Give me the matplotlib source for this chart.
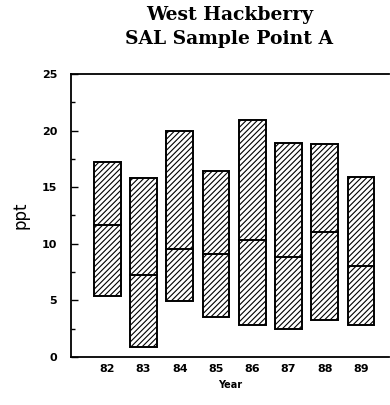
import matplotlib
matplotlib.use('Agg')
import matplotlib.pyplot as plt

years = [82, 83, 84, 85, 86, 87, 88, 89]
year_labels = ['82', '83', '84', '85', '86', '87', '88', '89']
sal_min = [5.4, 0.9, 4.95, 3.5, 2.8, 2.45, 3.3, 2.8]
sal_max = [17.2, 15.8, 20.0, 16.4, 20.9, 18.9, 18.8, 15.9]
sal_mid = [11.7, 7.2, 9.5, 9.1, 10.3, 8.8, 11.0, 8.0]

plt.rcParams['hatch.linewidth'] = 0.8

def main():
    fig = plt.figure(figsize=(3.9, 4.05), dpi=100)
    ax = fig.add_axes([0.182, 0.1185, 0.815, 0.699])

    heights = [hi - lo for lo, hi in zip(sal_min, sal_max)]
    ax.bar(years, heights, bottom=sal_min, width=0.74,
           facecolor='white', edgecolor='black', linewidth=1.4,
           hatch='//////')
    for x, m in zip(years, sal_mid):
        ax.plot([x - 0.37, x + 0.37], [m, m], color='black', linewidth=1.4)

    ax.set_xlim(81, 89.77)
    ax.set_ylim(0, 25)
    ax.set_yticks([0, 5, 10, 15, 20, 25])
    ax.set_yticks([2.5, 7.5, 12.5, 17.5, 22.5], minor=True)
    ax.set_xticks(years)
    ax.set_xticklabels(year_labels, fontsize=8, fontweight='bold')
    ax.tick_params(axis='y', direction='in', length=5, width=1, labelsize=8, pad=10)
    ax.tick_params(axis='y', which='minor', direction='in', length=3, width=1)
    ax.tick_params(axis='x', length=0, pad=5)
    for lbl in ax.get_yticklabels():
        lbl.set_fontweight('bold')
    ax.spines['right'].set_visible(False)
    for s in ['left', 'top', 'bottom']:
        ax.spines[s].set_linewidth(1.3)

    ax.set_ylabel('ppt', fontsize=12, labelpad=9)
    ax.set_xlabel('Year', fontsize=7, fontweight='bold', labelpad=4)

    fig.text(0.588, 0.985, 'West Hackberry\nSAL Sample Point A', ha='center', va='top',
             fontsize=13.5, fontweight='semibold', family='DejaVu Serif', linespacing=1.4)

    fig.savefig('out.png', dpi=100)

if __name__ == '__main__':
    main()
